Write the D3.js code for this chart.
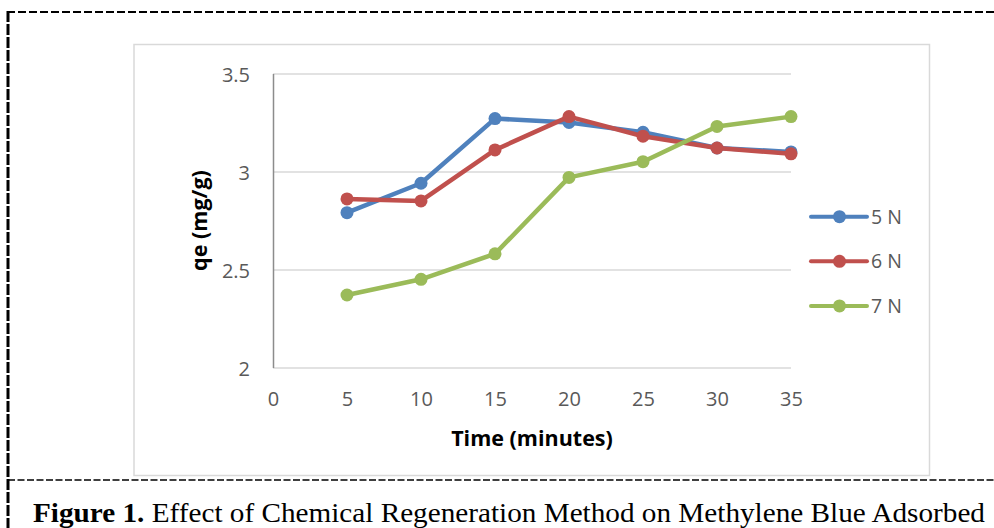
<!DOCTYPE html>
<html>
<head>
<meta charset="utf-8">
<script src="https://cdn.jsdelivr.net/npm/d3@7"></script>
<style>
  html, body { margin: 0; padding: 0; background: #fff; }
  svg { display: block; }
  .tick text { font-family: "Open Sans", sans-serif; font-size: 20px; fill: #595959; }
</style>
</head>
<body>
<div id="app"></div>
<script>
// values
const times = [5, 10, 15, 20, 25, 30, 35];
const qe5N = [2.79, 2.94, 3.27, 3.25, 3.20, 3.12, 3.10];
const qe6N = [2.86, 2.85, 3.11, 3.28, 3.18, 3.12, 3.09];
const qe7N = [2.37, 2.45, 2.58, 2.97, 3.05, 3.23, 3.28];
const seriesNames = ['5 N', '6 N', '7 N'];
const xTicks = [0, 5, 10, 15, 20, 25, 30, 35];
const yTicks = [2, 2.5, 3, 3.5];

const colors = ['#4F81BD', '#C0504D', '#9BBB59'];
const series = [qe5N, qe6N, qe7N].map((vals, i) => ({
  name: seriesNames[i],
  color: colors[i],
  points: times.map((t, j) => ({ t: t, v: vals[j] }))
}));

const w = 994;
const h = 528;

const svg = d3.select('#app')
  .append('svg')
  .attr('width', w)
  .attr('height', h);

/////////FRAME//////////
svg.append('line')
  .attr('x1', 7).attr('x2', w + 5)
  .attr('y1', 12).attr('y2', 12)
  .attr('stroke', '#000')
  .attr('stroke-width', 2)
  .attr('stroke-dasharray', '8,3');

svg.append('line')
  .attr('x1', 8).attr('x2', 8)
  .attr('y1', 11).attr('y2', h + 5)
  .attr('stroke', '#000')
  .attr('stroke-width', 3)
  .attr('stroke-dasharray', '11,2');

svg.append('line')
  .attr('x1', 8).attr('x2', w + 5)
  .attr('y1', 480).attr('y2', 480)
  .attr('stroke', '#000')
  .attr('stroke-width', 1.5)
  .attr('stroke-dasharray', '7,2.5');

// chart area box
svg.append('rect')
  .attr('x', 134)
  .attr('y', 44.5)
  .attr('width', 795.5)
  .attr('height', 431)
  .attr('fill', 'none')
  .attr('stroke', '#d9d9d9')
  .attr('stroke-width', 1.5);

/////////AXES//////////
const xScale = d3.scaleLinear()
  .domain([0, 35])
  .range([273, 791]);

const yScale = d3.scaleLinear()
  .domain([2, 3.5])
  .range([367.5, 73.5]);

// gridlines
svg.append('g')
  .attr('transform', 'translate(' + xScale(0) + ',0)')
  .call(d3.axisLeft(yScale).tickValues(yTicks).tickSize(-(xScale(35) - xScale(0))).tickFormat(''))
  .call((g) => g.select('.domain').remove())
  .call((g) => g.selectAll('line').attr('stroke', '#d9d9d9').attr('stroke-width', 1.3));

// y axis
svg.append('g')
  .attr('id', 'y-axis')
  .attr('transform', 'translate(' + xScale(0) + ',0)')
  .call(d3.axisLeft(yScale).tickValues(yTicks).tickSize(0).tickPadding(23).tickFormat((d) => String(d)))
  .call((g) => g.selectAll('.tick text').attr('dy', '0.4em'))
  .call((g) => g.select('.domain').attr('stroke', '#8c8c8c').attr('stroke-width', 1.5));

// x axis
svg.append('g')
  .attr('id', 'x-axis')
  .attr('transform', 'translate(0,' + yScale(2) + ')')
  .call(d3.axisBottom(xScale).tickValues(xTicks).tickSize(0).tickPadding(24).tickFormat((d) => String(d)))
  .call((g) => g.select('.domain').remove());

svg.append('text')
  .attr('transform', 'translate(207,' + ((yScale(2) + yScale(3.5)) / 2) + ') rotate(-90)')
  .style('text-anchor', 'middle')
  .style('font-family', '"Open Sans", sans-serif')
  .style('font-weight', 'bold')
  .style('font-size', '21.5px')
  .text('qe (mg/g)');

svg.append('text')
  .attr('x', (xScale(0) + xScale(35)) / 2)
  .attr('y', 446)
  .style('text-anchor', 'middle')
  .style('font-family', '"Open Sans", sans-serif')
  .style('font-weight', 'bold')
  .style('font-size', '21.5px')
  .text('Time (minutes)');

//////////LINES//////////
const line = d3.line()
  .x((d) => xScale(d.t))
  .y((d) => yScale(d.v));

series.forEach((s) => {
  const g = svg.append('g');
  g.append('path')
    .datum(s.points)
    .attr('d', line)
    .attr('fill', 'none')
    .attr('stroke', s.color)
    .attr('stroke-width', 4.5)
    .attr('stroke-linejoin', 'round')
    .attr('stroke-linecap', 'round');
  g.selectAll('circle')
    .data(s.points)
    .enter()
    .append('circle')
    .attr('cx', (d) => xScale(d.t))
    .attr('cy', (d) => yScale(d.v))
    .attr('r', 6.5)
    .attr('fill', s.color);
});

//////////LEGEND//////////
const legend = svg.append('g')
  .selectAll('g')
  .data(series)
  .enter()
  .append('g')
  .attr('transform', (d, i) => 'translate(811,' + (216.7 + i * 44.6) + ')');

legend.append('line')
  .attr('x1', 0).attr('x2', 56)
  .attr('stroke', (d) => d.color)
  .attr('stroke-width', 4)
  .attr('stroke-linecap', 'round');

legend.append('circle')
  .attr('cx', 28.5)
  .attr('r', 6.5)
  .attr('fill', (d) => d.color);

legend.append('text')
  .attr('x', 60)
  .attr('dy', '0.36em')
  .style('font-family', '"Open Sans", sans-serif')
  .style('font-size', '19.5px')
  .style('fill', '#595959')
  .text((d) => d.name);

//////////CAPTION//////////
const caption = svg.append('text')
  .attr('x', 33)
  .attr('y', 522)
  .attr('textLength', 952)
  .attr('lengthAdjust', 'spacingAndGlyphs')
  .style('font-family', '"Liberation Serif", "Times New Roman", serif')
  .style('font-size', '28px')
  .style('fill', '#000');

caption.append('tspan')
  .style('font-weight', 'bold')
  .text('Figure 1.');

caption.append('tspan')
  .text(' Effect of Chemical Regeneration Method on Methylene Blue Adsorbed');
</script>
</body>
</html>
